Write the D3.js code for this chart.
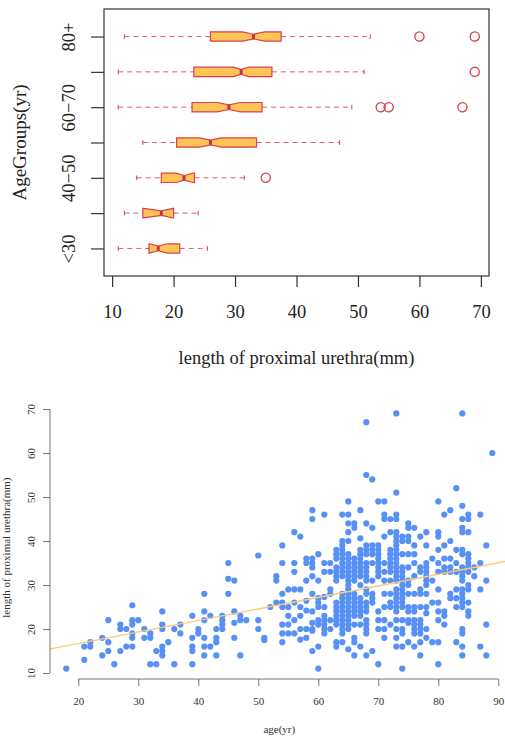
<!DOCTYPE html>
<html>
<head>
<meta charset="utf-8">
<script src="https://cdn.jsdelivr.net/npm/d3@7"></script>
<style>
  body { margin: 0; background: #fff; }
  svg { display: block; font-family: "Liberation Serif", "Times New Roman", serif; }
</style>
</head>
<body>
<div id="chart"></div>
<script>
// ---- boxplot summary, per age group (mm) ----
const groups   = ["<30", "30−40", "40−50", "50−60", "60−70", "70−80", "80+"];
const whiskLo  = [11, 12, 14, 15, 11, 11, 12];
const q1       = [16, 15, 18, 20.5, 23, 23.3, 26];
const median   = [17.5, 18, 21.7, 26, 29, 31, 33];
const q3       = [21, 20, 23.4, 33.5, 34.4, 36, 37.5];
const whiskHi  = [25.5, 24, 31.5, 47, 49, 51, 52];
const notchLo  = [16, 15.1, 20.4, 24.2, 27.1, 29.8, 31.2];
const notchHi  = [19, 19.9, 23.2, 27.8, 30.9, 32.2, 34.8];
const outliers = [[], [], [35], [], [53.7, 55, 67], [69], [60, 69]];
const boxTicks = [10, 20, 30, 40, 50, 60, 70];

// ---- scatter: age (yr) and the lengths measured at that age (mm) ----
const ageYears = [18, 21, 22, 24, 25, 26, 27, 28, 29, 30, 31, 32, 33, 34, 35, 36, 37, 39, 40,
  41, 42, 43, 44, 45, 46, 47, 48, 50, 51, 52, 53, 54, 55, 56, 57, 58, 59, 60, 61, 62, 63, 64,
  65, 66, 67, 68, 69, 70, 71, 72, 73, 74, 75, 76, 77, 78, 79, 80, 81, 82, 83, 84, 85, 86, 87, 88, 89];
const lengthsAtAge = [
  [11], [13, 16], [16, 17], [14, 18], [22, 17, 15], [12], [21, 20, 15], [20, 16],
  [25.4, 22, 21, 19, 18, 16], [22], [20, 18], [19, 18, 12], [15, 12], [24, 21, 20, 16, 15, 14],
  [17], [20, 12], [21, 19], [23, 18, 16, 15, 12], [20, 19], [28, 24, 22, 18, 16, 14], [23, 16],
  [20, 18, 17, 14], [23, 22, 21, 20], [35, 31.4, 28], [31, 24, 21.4, 18], [23, 22, 14], [22],
  [36.7, 22, 20], [18, 17.5], [25], [32, 31, 26], [39, 35, 28, 26, 25, 21, 19, 17],
  [29, 25, 23, 21, 19], [42, 35, 33, 29, 26, 22, 19], [41, 29, 25, 23, 20, 17.6],
  [36, 35, 31, 26.4, 24.2, 20, 18], [47, 45, 36, 35, 34, 32, 28, 24, 21.4, 20, 19.6, 15],
  [37, 31, 27, 26, 25, 22, 21, 16, 11], [46, 35, 33, 27.3, 25, 23, 22, 21, 20, 19],
  [35, 33, 29, 28, 22, 20],
  [38, 37, 36, 34, 33, 32, 31, 26, 25, 24, 23, 22, 21, 17, 16],
  [46, 40, 39, 38, 37, 36, 35, 34, 33, 32, 28, 27, 26, 25, 24, 23, 22, 21, 20, 19, 17],
  [49, 46, 44, 42, 40, 37, 36, 35, 34, 33, 32, 31, 30, 29, 28, 27, 26, 25, 24, 23, 22, 21, 20, 15.4],
  [44, 43, 36, 35, 34, 33, 32, 31, 28, 27, 26, 25, 24, 23, 21, 18, 17, 14],
  [47, 40.6, 38, 37, 36, 35, 34, 33, 32, 30, 27, 26, 25, 24, 23, 21, 16],
  [67, 55, 44, 39, 38, 37, 35, 34, 33, 32, 31, 29, 28, 26, 25, 24, 22, 21, 20, 19, 14],
  [54, 43, 39, 38, 37, 35, 31, 28, 27, 26, 15],
  [49, 39, 38, 37, 36, 35, 34, 33, 32, 24, 22, 20, 12],
  [49, 46, 45, 41, 35, 33, 31, 28, 25, 22, 20, 18],
  [45, 42, 38, 37, 36, 35, 34, 33, 31, 28, 26, 25, 21],
  [69, 51, 46, 45, 42, 41, 40, 39, 38, 37, 36, 35, 34, 33, 32, 31, 29, 28, 27, 26, 25, 24, 22, 20, 18, 16],
  [41, 40, 37, 34, 33, 32, 31, 30, 29, 28, 27, 26, 25, 22, 20, 19, 16, 11],
  [44, 43, 41, 40, 37, 34, 31, 30, 28, 25, 24, 22, 21.4, 17],
  [43, 39, 37, 35, 32, 28, 25, 24, 22, 21, 20, 19, 16],
  [41, 34, 33, 29, 28, 25, 22, 21, 20, 19, 17, 14],
  [42, 39, 35, 34, 33, 32, 31, 30, 28, 25, 23.6, 20, 18],
  [36, 31, 26, 17],
  [49, 42, 41, 38, 35, 33, 29, 26, 24, 22, 17, 12],
  [46, 39, 36, 34, 33, 24, 23, 21],
  [47, 40, 36, 34, 33, 28, 27],
  [52, 38, 35, 33, 29, 27, 25, 17],
  [69, 48, 45, 43, 42, 38, 37, 34, 33, 32, 31, 29, 28, 27, 26, 25, 20, 19, 16, 14],
  [46, 45, 42, 37, 36, 35, 34, 33, 30, 29, 26, 24, 23],
  [34, 32], [46, 35, 29, 16], [39, 31, 21, 14], [60]
];
const fitLine = [11.47, 0.262];   // intercept, slope of the fitted line
const ageTicks = [20, 30, 40, 50, 60, 70, 80, 90];
const lenTicks = [10, 20, 30, 40, 50, 60, 70];

const width = 505, height = 738;
const serif = "'Liberation Serif', 'Times New Roman', serif";
const red = "#d8404c", boxFill = "#ffc456", blue = "#5891f6", lineCol = "#fcc878";

const svg = d3.select("#chart")
  .append("svg")
  .attr("width", width)
  .attr("height", height);

// ================= top: notched boxplot =================
const bx = d3.scaleLinear().domain([8.68, 71.32]).range([104, 489]);
const by = d3.scaleLinear().domain([0.22, 7.78]).range([276, 9]);
const half = (by(1) - by(2)) * 0.132;

const topG = svg.append("g");

topG.append("rect")
  .attr("x", bx.range()[0])
  .attr("y", by.range()[1])
  .attr("width", bx.range()[1] - bx.range()[0])
  .attr("height", by.range()[0] - by.range()[1])
  .attr("fill", "none")
  .attr("stroke", "#333")
  .attr("stroke-width", 1.2);

const boxes = topG.selectAll("g.box")
  .data(groups.map((g, i) => ({ name: g, i, pos: i + 1 })))
  .join("g")
  .attr("class", "box")
  .attr("transform", d => `translate(0,${by(d.pos)})`);

// whiskers (dashed) and staples
boxes.append("line")
  .attr("x1", d => bx(whiskLo[d.i])).attr("x2", d => bx(q1[d.i]))
  .attr("stroke", red).attr("stroke-opacity", 0.85).attr("stroke-dasharray", "5,4");
boxes.append("line")
  .attr("x1", d => bx(q3[d.i])).attr("x2", d => bx(whiskHi[d.i]))
  .attr("stroke", red).attr("stroke-opacity", 0.85).attr("stroke-dasharray", "5,4");
boxes.selectAll("line.staple")
  .data(d => [whiskLo[d.i], whiskHi[d.i]])
  .join("line")
  .attr("class", "staple")
  .attr("x1", v => bx(v)).attr("x2", v => bx(v))
  .attr("y1", -half * 0.5).attr("y2", half * 0.5)
  .attr("stroke", red);

// notched box, same outline as R's bxp
boxes.append("path")
  .attr("d", d => {
    const i = d.i;
    const pts = [
      [q1[i], -half], [q1[i], half], [notchLo[i], half], [median[i], half * 0.5],
      [notchHi[i], half], [q3[i], half], [q3[i], -half], [notchHi[i], -half],
      [median[i], -half * 0.5], [notchLo[i], -half]
    ];
    return "M" + pts.map(p => `${bx(p[0])},${p[1]}`).join("L") + "Z";
  })
  .attr("fill", boxFill)
  .attr("stroke", red)
  .attr("stroke-width", 1.2)
  .attr("stroke-linejoin", "miter");

boxes.append("line")
  .attr("x1", d => bx(median[d.i])).attr("x2", d => bx(median[d.i]))
  .attr("y1", -half * 0.5).attr("y2", half * 0.5)
  .attr("stroke", "#c8323e").attr("stroke-width", 3);

boxes.selectAll("circle")
  .data(d => outliers[d.i])
  .join("circle")
  .attr("cx", v => bx(v))
  .attr("r", 4.6)
  .attr("fill", "none")
  .attr("stroke", red)
  .attr("stroke-width", 1.3);

// x axis
topG.append("g")
  .attr("transform", `translate(0,${by.range()[0]})`)
  .call(d3.axisBottom(bx).tickValues(boxTicks).tickSize(11).tickSizeOuter(0))
  .attr("font-family", serif)
  .attr("font-size", null)
  .call(g => g.select(".domain").remove())
  .call(g => g.selectAll("line").attr("stroke", "#333").attr("stroke-width", 1.2))
  .call(g => g.selectAll("text")
    .attr("y", 42).attr("dy", 0)
    .attr("fill", "#222")
    .style("font-size", "18.5px"));

topG.append("text")
  .attr("x", (bx.range()[0] + bx.range()[1]) / 2)
  .attr("y", 364)
  .attr("text-anchor", "middle")
  .attr("fill", "#222")
  .style("font-size", "18.5px")
  .text("length of proximal urethra(mm)");

// y axis with rotated labels; overlapping labels are dropped like R does
const yAx = topG.append("g")
  .attr("transform", `translate(${bx.range()[0]},0)`)
  .call(d3.axisLeft(by).tickValues(d3.range(1, 8)).tickFormat(d => groups[d - 1]).tickSize(13))
  .attr("font-family", serif)
  .attr("font-size", null)
  .call(g => g.select(".domain").remove())
  .call(g => g.selectAll("line").attr("stroke", "#333").attr("stroke-width", 1.2));

const yLabels = yAx.selectAll("text")
  .attr("x", 0).attr("dy", 0)
  .attr("text-anchor", "middle")
  .attr("transform", "translate(-29,0) rotate(-90)")
  .attr("fill", "#222")
  .style("font-size", "18.5px");

let lastEdge = Infinity;
yLabels.each(function (d) {
  const len = this.getComputedTextLength();
  const c = by(d);
  if (c + len / 2 + 4 > lastEdge) {
    d3.select(this).remove();
  } else {
    lastEdge = c - len / 2;
  }
});

topG.append("text")
  .attr("transform", `translate(26,${(by.range()[0] + by.range()[1]) / 2}) rotate(-90)`)
  .attr("text-anchor", "middle")
  .attr("fill", "#222")
  .style("font-size", "19px")
  .text("AgeGroups(yr)");

// ================= bottom: scatter with fitted line =================
const sx = d3.scaleLinear().domain([20, 90]).range([78.3, 498.3]);
const sy = d3.scaleLinear().domain([10, 70]).range([673, 409]);
const xLim = [15.16, 91.84];

const points = ageYears.flatMap((a, i) => lengthsAtAge[i].map(v => ({ age: a, len: v })));

const botG = svg.append("g");

botG.append("g")
  .selectAll("circle")
  .data(points)
  .join("circle")
  .attr("cx", d => sx(d.age))
  .attr("cy", d => sy(d.len))
  .attr("r", 3.1)
  .attr("fill", blue);

botG.append("line")
  .attr("x1", sx(xLim[0])).attr("y1", sy(fitLine[0] + fitLine[1] * xLim[0]))
  .attr("x2", sx(xLim[1])).attr("y2", sy(fitLine[0] + fitLine[1] * xLim[1]))
  .attr("stroke", lineCol)
  .attr("stroke-width", 1.3);

// x axis: line only between first and last tick
const xAx = botG.append("g")
  .attr("transform", "translate(0,679)")
  .call(d3.axisBottom(sx).tickValues(ageTicks).tickSize(7))
  .attr("font-family", serif)
  .attr("font-size", null)
  .call(g => g.select(".domain").remove())
  .call(g => g.selectAll("line").attr("stroke", "#777"))
  .call(g => g.selectAll("text").attr("y", 25.5).attr("dy", 0).attr("fill", "#333").style("font-size", "11px"));
xAx.append("line")
  .attr("x1", sx(ageTicks[0])).attr("x2", sx(ageTicks[ageTicks.length - 1]))
  .attr("stroke", "#777");

const yAx2 = botG.append("g")
  .attr("transform", "translate(50,0)")
  .call(d3.axisLeft(sy).tickValues(lenTicks).tickSize(7))
  .attr("font-family", serif)
  .attr("font-size", null)
  .call(g => g.select(".domain").remove())
  .call(g => g.selectAll("line").attr("stroke", "#777"))
  .call(g => g.selectAll("text")
    .attr("x", 0).attr("dy", 0)
    .attr("text-anchor", "middle")
    .attr("transform", "translate(-15,0) rotate(-90)")
    .attr("fill", "#333")
    .style("font-size", "11px"));
yAx2.append("line")
  .attr("y1", sy(lenTicks[0])).attr("y2", sy(lenTicks[lenTicks.length - 1]))
  .attr("stroke", "#777");

botG.append("text")
  .attr("x", (sx(xLim[0]) + sx(xLim[1])) / 2)
  .attr("y", 733)
  .attr("text-anchor", "middle")
  .attr("fill", "#333")
  .style("font-size", "11px")
  .text("age(yr)");

botG.append("text")
  .attr("transform", `translate(9.5,${sy(38.5)}) rotate(-90)`)
  .attr("text-anchor", "middle")
  .attr("fill", "#333")
  .style("font-size", "11px")
  .text("length of proximal urethra(mm)");
</script>
</body>
</html>
